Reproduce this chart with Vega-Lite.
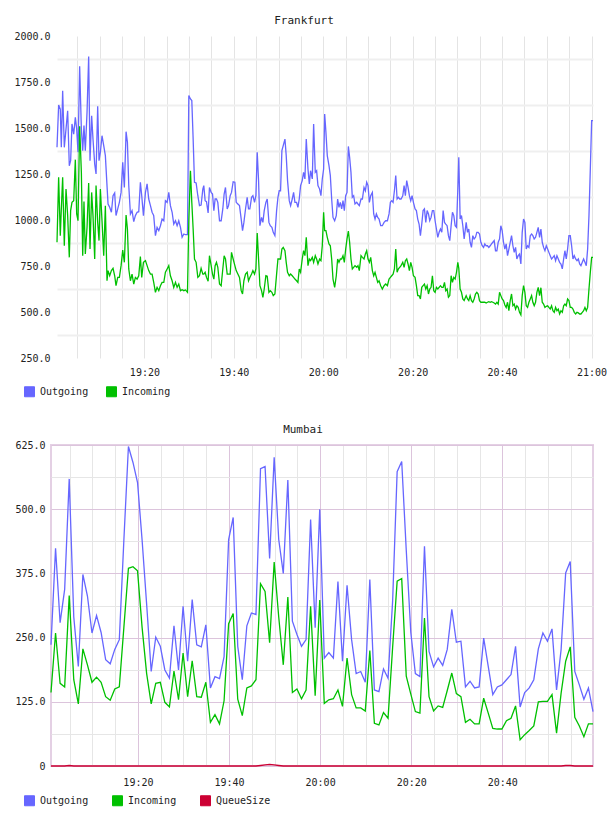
{
  "$schema": "https://vega.github.io/schema/vega-lite/v6.json",
  "background": "white",
  "padding": {"left": 13, "top": 15, "right": 0, "bottom": 0},
  "spacing": 24,
  "resolve": {"scale": {"color": "independent"}, "legend": {"color": "independent"}},
  "config": {
    "font": "DejaVu Sans Mono",
    "axis": {"labelFont": "DejaVu Sans Mono", "labelFontSize": 10, "labelColor": "#222222", "ticks": false, "domain": false, "labelOverlap": false, "labelBound": false, "labelFlush": false},
    "legend": {
      "orient": "none", "direction": "horizontal", "padding": 0,
      "symbolType": "square", "symbolSize": 100, "symbolStrokeWidth": 1,
      "labelFont": "DejaVu Sans Mono", "labelFontSize": 10, "labelColor": "#222222",
      "labelOffset": 5, "columnPadding": 15, "gridAlign": "all"
    }
  },
  "vconcat": [
    {
      "title": {"text": "Frankfurt", "font": "DejaVu Sans Mono", "fontSize": 11, "fontWeight": "normal", "color": "#222222", "anchor": "middle", "frame": "group", "dx": -18, "offset": 5},
      "width": 542,
      "height": 322,
      "view": {"stroke": null},
      "data": {
        "values": [
          {"t":68427000,"Outgoing":1395,"Incoming":879},{"t":68449000,"Outgoing":1625,"Incoming":1232},{"t":68471000,"Outgoing":1603,"Incoming":915},{"t":68485000,"Outgoing":1395,"Incoming":1060},{"t":68503000,"Outgoing":1703,"Incoming":1232},{"t":68525000,"Outgoing":1395,"Incoming":860},{"t":68548000,"Outgoing":1495,"Incoming":1168},{"t":68570000,"Outgoing":1594,"Incoming":1024},{"t":68592000,"Outgoing":1295,"Incoming":797},{"t":68610000,"Outgoing":1322,"Incoming":1051},
          {"t":68628000,"Outgoing":1522,"Incoming":1096},{"t":68651000,"Outgoing":1467,"Incoming":1105},{"t":68673000,"Outgoing":1558,"Incoming":1328},{"t":68691000,"Outgoing":1495,"Incoming":1033},{"t":68709000,"Outgoing":1368,"Incoming":996},{"t":68731000,"Outgoing":1835,"Incoming":1509},{"t":68754000,"Outgoing":1495,"Incoming":1259},{"t":68772000,"Outgoing":1377,"Incoming":806},{"t":68789000,"Outgoing":1513,"Incoming":1100},{"t":68807000,"Outgoing":1377,"Incoming":815},
          {"t":68830000,"Outgoing":1585,"Incoming":960},{"t":68852000,"Outgoing":1889,"Incoming":1201},{"t":68870000,"Outgoing":1322,"Incoming":842},{"t":68892000,"Outgoing":1567,"Incoming":1150},{"t":68910000,"Outgoing":1440,"Incoming":1024},{"t":68933000,"Outgoing":1304,"Incoming":788},{"t":68951000,"Outgoing":1250,"Incoming":1187},{"t":68973000,"Outgoing":1618,"Incoming":987},{"t":68991000,"Outgoing":1322,"Incoming":888},{"t":69009000,"Outgoing":1368,"Incoming":1168},
          {"t":69031000,"Outgoing":1458,"Incoming":996},{"t":69054000,"Outgoing":1404,"Incoming":806},{"t":69076000,"Outgoing":1350,"Incoming":1078},{"t":69098000,"Outgoing":1187,"Incoming":670},{"t":69112000,"Outgoing":1087,"Incoming":725},{"t":69134000,"Outgoing":1069,"Incoming":697},{"t":69157000,"Outgoing":1042,"Incoming":725},{"t":69179000,"Outgoing":1132,"Incoming":737},{"t":69201000,"Outgoing":1147,"Incoming":697},{"t":69219000,"Outgoing":1024,"Incoming":643},
          {"t":69242000,"Outgoing":1060,"Incoming":688},{"t":69264000,"Outgoing":1096,"Incoming":688},{"t":69287000,"Outgoing":1150,"Incoming":752},{"t":69309000,"Outgoing":1313,"Incoming":837},{"t":69331000,"Outgoing":1177,"Incoming":770},{"t":69354000,"Outgoing":1480,"Incoming":1027},{"t":69372000,"Outgoing":1422,"Incoming":951},{"t":69390000,"Outgoing":1187,"Incoming":734},{"t":69412000,"Outgoing":1033,"Incoming":670},{"t":69434000,"Outgoing":1051,"Incoming":706},
          {"t":69457000,"Outgoing":991,"Incoming":652},{"t":69479000,"Outgoing":1024,"Incoming":688},{"t":69502000,"Outgoing":1042,"Incoming":679},{"t":69524000,"Outgoing":1045,"Incoming":697},{"t":69546000,"Outgoing":1205,"Incoming":801},{"t":69564000,"Outgoing":1132,"Incoming":688},{"t":69587000,"Outgoing":1024,"Incoming":770},{"t":69614000,"Outgoing":1150,"Incoming":779},{"t":69636000,"Outgoing":1196,"Incoming":752},{"t":69658000,"Outgoing":1114,"Incoming":725},
          {"t":69681000,"Outgoing":1078,"Incoming":706},{"t":69703000,"Outgoing":1042,"Incoming":706},{"t":69725000,"Outgoing":1024,"Incoming":661},{"t":69748000,"Outgoing":915,"Incoming":607},{"t":69770000,"Outgoing":960,"Incoming":634},{"t":69793000,"Outgoing":942,"Incoming":616},{"t":69815000,"Outgoing":969,"Incoming":643},{"t":69837000,"Outgoing":1005,"Incoming":661},{"t":69860000,"Outgoing":996,"Incoming":661},{"t":69882000,"Outgoing":1105,"Incoming":716},
          {"t":69905000,"Outgoing":1096,"Incoming":734},{"t":69927000,"Outgoing":1150,"Incoming":752},{"t":69949000,"Outgoing":1078,"Incoming":697},{"t":69972000,"Outgoing":1042,"Incoming":670},{"t":69994000,"Outgoing":978,"Incoming":634},{"t":70017000,"Outgoing":996,"Incoming":661},{"t":70039000,"Outgoing":969,"Incoming":634},{"t":70061000,"Outgoing":996,"Incoming":652},{"t":70084000,"Outgoing":960,"Incoming":616},{"t":70106000,"Outgoing":906,"Incoming":621},
          {"t":70129000,"Outgoing":924,"Incoming":616},{"t":70151000,"Outgoing":920,"Incoming":620},{"t":70178000,"Outgoing":920,"Incoming":607},{"t":70196000,"Outgoing":1676,"Incoming":1000},{"t":70218000,"Outgoing":1658,"Incoming":1268},{"t":70236000,"Outgoing":1649,"Incoming":1096},{"t":70254000,"Outgoing":1440,"Incoming":951},{"t":70272000,"Outgoing":1205,"Incoming":788},{"t":70294000,"Outgoing":1201,"Incoming":770},{"t":70317000,"Outgoing":1132,"Incoming":688},
          {"t":70339000,"Outgoing":1078,"Incoming":697},{"t":70361000,"Outgoing":1081,"Incoming":737},{"t":70384000,"Outgoing":1168,"Incoming":706},{"t":70397000,"Outgoing":1187,"Incoming":706},{"t":70415000,"Outgoing":1105,"Incoming":716},{"t":70433000,"Outgoing":1100,"Incoming":688},{"t":70455000,"Outgoing":1038,"Incoming":667},{"t":70473000,"Outgoing":1177,"Incoming":806},{"t":70496000,"Outgoing":1150,"Incoming":752},{"t":70514000,"Outgoing":1141,"Incoming":706},
          {"t":70532000,"Outgoing":1051,"Incoming":679},{"t":70549000,"Outgoing":1114,"Incoming":752},{"t":70567000,"Outgoing":1114,"Incoming":770},{"t":70585000,"Outgoing":1096,"Incoming":743},{"t":70608000,"Outgoing":996,"Incoming":652},{"t":70630000,"Outgoing":996,"Incoming":643},{"t":70652000,"Outgoing":1060,"Incoming":734},{"t":70670000,"Outgoing":1141,"Incoming":806},{"t":70688000,"Outgoing":1177,"Incoming":788},{"t":70711000,"Outgoing":1060,"Incoming":706},
          {"t":70729000,"Outgoing":1078,"Incoming":706},{"t":70751000,"Outgoing":1132,"Incoming":706},{"t":70769000,"Outgoing":1150,"Incoming":824},{"t":70791000,"Outgoing":1208,"Incoming":788},{"t":70814000,"Outgoing":1205,"Incoming":752},{"t":70832000,"Outgoing":1096,"Incoming":725},{"t":70854000,"Outgoing":1087,"Incoming":706},{"t":70876000,"Outgoing":1078,"Incoming":688},{"t":70899000,"Outgoing":1005,"Incoming":616},{"t":70917000,"Outgoing":942,"Incoming":598},
          {"t":70935000,"Outgoing":987,"Incoming":670},{"t":70957000,"Outgoing":1060,"Incoming":706},{"t":70979000,"Outgoing":1123,"Incoming":716},{"t":70997000,"Outgoing":1060,"Incoming":670},{"t":71015000,"Outgoing":1060,"Incoming":688},{"t":71038000,"Outgoing":1123,"Incoming":706},{"t":71056000,"Outgoing":1132,"Incoming":725},{"t":71078000,"Outgoing":1096,"Incoming":706},{"t":71096000,"Outgoing":1132,"Incoming":734},{"t":71114000,"Outgoing":1368,"Incoming":929},
          {"t":71132000,"Outgoing":1214,"Incoming":788},{"t":71150000,"Outgoing":969,"Incoming":643},{"t":71172000,"Outgoing":1014,"Incoming":616},{"t":71190000,"Outgoing":987,"Incoming":580},{"t":71208000,"Outgoing":1051,"Incoming":625},{"t":71230000,"Outgoing":1096,"Incoming":697},{"t":71248000,"Outgoing":1114,"Incoming":694},{"t":71271000,"Outgoing":987,"Incoming":607},{"t":71289000,"Outgoing":969,"Incoming":616},{"t":71311000,"Outgoing":960,"Incoming":607},
          {"t":71329000,"Outgoing":933,"Incoming":589},{"t":71351000,"Outgoing":915,"Incoming":598},{"t":71374000,"Outgoing":1051,"Incoming":706},{"t":71392000,"Outgoing":1123,"Incoming":788},{"t":71409000,"Outgoing":1159,"Incoming":788},{"t":71427000,"Outgoing":1159,"Incoming":788},{"t":71445000,"Outgoing":1377,"Incoming":842},{"t":71463000,"Outgoing":1404,"Incoming":851},{"t":71486000,"Outgoing":1440,"Incoming":833},{"t":71503000,"Outgoing":1350,"Incoming":770},
          {"t":71521000,"Outgoing":1214,"Incoming":716},{"t":71544000,"Outgoing":1105,"Incoming":697},{"t":71562000,"Outgoing":1078,"Incoming":706},{"t":71584000,"Outgoing":1114,"Incoming":697},{"t":71602000,"Outgoing":1150,"Incoming":688},{"t":71620000,"Outgoing":1096,"Incoming":679},{"t":71642000,"Outgoing":1096,"Incoming":670},{"t":71660000,"Outgoing":1069,"Incoming":661},{"t":71678000,"Outgoing":1114,"Incoming":734},{"t":71696000,"Outgoing":1187,"Incoming":716},
          {"t":71718000,"Outgoing":1214,"Incoming":788},{"t":71736000,"Outgoing":1259,"Incoming":833},{"t":71754000,"Outgoing":1223,"Incoming":806},{"t":71772000,"Outgoing":1440,"Incoming":906},{"t":71795000,"Outgoing":1277,"Incoming":752},{"t":71813000,"Outgoing":1196,"Incoming":788},{"t":71830000,"Outgoing":1268,"Incoming":779},{"t":71853000,"Outgoing":1223,"Incoming":797},{"t":71871000,"Outgoing":1522,"Incoming":770},{"t":71893000,"Outgoing":1259,"Incoming":806},
          {"t":71911000,"Outgoing":1268,"Incoming":788},{"t":71929000,"Outgoing":1187,"Incoming":761},{"t":71951000,"Outgoing":1168,"Incoming":788},{"t":71969000,"Outgoing":1132,"Incoming":779},{"t":71987000,"Outgoing":1223,"Incoming":860},{"t":72005000,"Outgoing":1277,"Incoming":1042},{"t":72019000,"Outgoing":1576,"Incoming":942},{"t":72036000,"Outgoing":1476,"Incoming":942},{"t":72054000,"Outgoing":1350,"Incoming":906},{"t":72077000,"Outgoing":1295,"Incoming":870},
          {"t":72095000,"Outgoing":1241,"Incoming":860},{"t":72113000,"Outgoing":1114,"Incoming":788},{"t":72131000,"Outgoing":1014,"Incoming":679},{"t":72153000,"Outgoing":996,"Incoming":634},{"t":72175000,"Outgoing":1024,"Incoming":697},{"t":72193000,"Outgoing":1114,"Incoming":788},{"t":72211000,"Outgoing":1069,"Incoming":770},{"t":72229000,"Outgoing":1096,"Incoming":788},{"t":72247000,"Outgoing":1060,"Incoming":788},{"t":72265000,"Outgoing":1105,"Incoming":806},
          {"t":72283000,"Outgoing":1051,"Incoming":770},{"t":72301000,"Outgoing":1132,"Incoming":842},{"t":72319000,"Outgoing":1150,"Incoming":897},{"t":72337000,"Outgoing":1400,"Incoming":940},{"t":72354000,"Outgoing":1341,"Incoming":879},{"t":72372000,"Outgoing":1259,"Incoming":788},{"t":72390000,"Outgoing":1123,"Incoming":734},{"t":72408000,"Outgoing":1132,"Incoming":743},{"t":72426000,"Outgoing":1087,"Incoming":752},{"t":72449000,"Outgoing":1096,"Incoming":743},
          {"t":72466000,"Outgoing":1087,"Incoming":752},{"t":72484000,"Outgoing":1078,"Incoming":725},{"t":72507000,"Outgoing":1114,"Incoming":806},{"t":72525000,"Outgoing":1114,"Incoming":797},{"t":72547000,"Outgoing":1177,"Incoming":788},{"t":72565000,"Outgoing":1159,"Incoming":815},{"t":72583000,"Outgoing":1205,"Incoming":833},{"t":72601000,"Outgoing":1187,"Incoming":788},{"t":72619000,"Outgoing":1096,"Incoming":770},{"t":72637000,"Outgoing":1132,"Incoming":797},
          {"t":72659000,"Outgoing":1150,"Incoming":725},{"t":72677000,"Outgoing":1033,"Incoming":697},{"t":72695000,"Outgoing":1005,"Incoming":716},{"t":72713000,"Outgoing":1033,"Incoming":688},{"t":72731000,"Outgoing":1014,"Incoming":661},{"t":72749000,"Outgoing":1005,"Incoming":670},{"t":72771000,"Outgoing":969,"Incoming":643},{"t":72793000,"Outgoing":969,"Incoming":625},{"t":72816000,"Outgoing":987,"Incoming":643},{"t":72838000,"Outgoing":996,"Incoming":652},
          {"t":72861000,"Outgoing":996,"Incoming":643},{"t":72883000,"Outgoing":1033,"Incoming":679},{"t":72901000,"Outgoing":1096,"Incoming":688},{"t":72919000,"Outgoing":1105,"Incoming":697},{"t":72937000,"Outgoing":1096,"Incoming":706},{"t":72955000,"Outgoing":1159,"Incoming":734},{"t":72973000,"Outgoing":1241,"Incoming":842},{"t":72991000,"Outgoing":1114,"Incoming":716},{"t":73008000,"Outgoing":1123,"Incoming":734},{"t":73026000,"Outgoing":1114,"Incoming":743},
          {"t":73044000,"Outgoing":1114,"Incoming":752},{"t":73067000,"Outgoing":1132,"Incoming":770},{"t":73085000,"Outgoing":1187,"Incoming":743},{"t":73102000,"Outgoing":1132,"Incoming":779},{"t":73120000,"Outgoing":1214,"Incoming":788},{"t":73138000,"Outgoing":1177,"Incoming":761},{"t":73156000,"Outgoing":1132,"Incoming":725},{"t":73174000,"Outgoing":1105,"Incoming":770},{"t":73192000,"Outgoing":1132,"Incoming":743},{"t":73210000,"Outgoing":1096,"Incoming":697},
          {"t":73232000,"Outgoing":1060,"Incoming":688},{"t":73250000,"Outgoing":1051,"Incoming":643},{"t":73268000,"Outgoing":1005,"Incoming":589},{"t":73286000,"Outgoing":978,"Incoming":589},{"t":73304000,"Outgoing":915,"Incoming":571},{"t":73322000,"Outgoing":978,"Incoming":634},{"t":73340000,"Outgoing":1051,"Incoming":643},{"t":73358000,"Outgoing":1060,"Incoming":652},{"t":73376000,"Outgoing":987,"Incoming":625},{"t":73394000,"Outgoing":1051,"Incoming":643},
          {"t":73412000,"Outgoing":1033,"Incoming":598},{"t":73429000,"Outgoing":996,"Incoming":625},{"t":73447000,"Outgoing":1014,"Incoming":634},{"t":73465000,"Outgoing":1051,"Incoming":697},{"t":73483000,"Outgoing":1051,"Incoming":616},{"t":73501000,"Outgoing":996,"Incoming":607},{"t":73519000,"Outgoing":951,"Incoming":634},{"t":73537000,"Outgoing":906,"Incoming":625},{"t":73555000,"Outgoing":933,"Incoming":634},{"t":73573000,"Outgoing":951,"Incoming":643},
          {"t":73591000,"Outgoing":933,"Incoming":634},{"t":73609000,"Outgoing":1051,"Incoming":634},{"t":73627000,"Outgoing":987,"Incoming":661},{"t":73644000,"Outgoing":978,"Incoming":616},{"t":73662000,"Outgoing":969,"Incoming":625},{"t":73680000,"Outgoing":915,"Incoming":580},{"t":73698000,"Outgoing":888,"Incoming":589},{"t":73716000,"Outgoing":969,"Incoming":697},{"t":73734000,"Outgoing":1042,"Incoming":661},{"t":73752000,"Outgoing":1024,"Incoming":688},
          {"t":73770000,"Outgoing":969,"Incoming":679},{"t":73788000,"Outgoing":960,"Incoming":716},{"t":73806000,"Outgoing":1168,"Incoming":770},{"t":73819000,"Outgoing":1341,"Incoming":737},{"t":73837000,"Outgoing":1005,"Incoming":625},{"t":73855000,"Outgoing":1024,"Incoming":607},{"t":73873000,"Outgoing":969,"Incoming":571},{"t":73891000,"Outgoing":897,"Incoming":562},{"t":73918000,"Outgoing":987,"Incoming":589},{"t":73936000,"Outgoing":933,"Incoming":571},
          {"t":73953000,"Outgoing":951,"Incoming":562},{"t":73971000,"Outgoing":879,"Incoming":589},{"t":73989000,"Outgoing":851,"Incoming":562},{"t":74007000,"Outgoing":915,"Incoming":553},{"t":74025000,"Outgoing":897,"Incoming":571},{"t":74043000,"Outgoing":906,"Incoming":598},{"t":74061000,"Outgoing":933,"Incoming":607},{"t":74079000,"Outgoing":933,"Incoming":598},{"t":74097000,"Outgoing":924,"Incoming":562},{"t":74115000,"Outgoing":879,"Incoming":553},
          {"t":74133000,"Outgoing":860,"Incoming":553},{"t":74151000,"Outgoing":851,"Incoming":553},{"t":74168000,"Outgoing":870,"Incoming":553},{"t":74186000,"Outgoing":860,"Incoming":549},{"t":74204000,"Outgoing":860,"Incoming":553},{"t":74222000,"Outgoing":851,"Incoming":556},{"t":74240000,"Outgoing":860,"Incoming":553},{"t":74258000,"Outgoing":870,"Incoming":556},{"t":74276000,"Outgoing":879,"Incoming":553},{"t":74294000,"Outgoing":888,"Incoming":549},
          {"t":74312000,"Outgoing":833,"Incoming":543},{"t":74330000,"Outgoing":833,"Incoming":553},{"t":74348000,"Outgoing":879,"Incoming":543},{"t":74366000,"Outgoing":897,"Incoming":607},{"t":74383000,"Outgoing":969,"Incoming":589},{"t":74401000,"Outgoing":942,"Incoming":571},{"t":74419000,"Outgoing":879,"Incoming":562},{"t":74437000,"Outgoing":842,"Incoming":538},{"t":74455000,"Outgoing":870,"Incoming":525},{"t":74473000,"Outgoing":806,"Incoming":553},
          {"t":74491000,"Outgoing":842,"Incoming":507},{"t":74509000,"Outgoing":879,"Incoming":562},{"t":74527000,"Outgoing":915,"Incoming":598},{"t":74545000,"Outgoing":860,"Incoming":534},{"t":74563000,"Outgoing":824,"Incoming":543},{"t":74581000,"Outgoing":851,"Incoming":516},{"t":74598000,"Outgoing":788,"Incoming":534},{"t":74616000,"Outgoing":806,"Incoming":525},{"t":74634000,"Outgoing":815,"Incoming":498},{"t":74652000,"Outgoing":761,"Incoming":484},
          {"t":74670000,"Outgoing":933,"Incoming":589},{"t":74688000,"Outgoing":1005,"Incoming":643},{"t":74706000,"Outgoing":987,"Incoming":607},{"t":74724000,"Outgoing":842,"Incoming":534},{"t":74742000,"Outgoing":860,"Incoming":525},{"t":74760000,"Outgoing":851,"Incoming":553},{"t":74778000,"Outgoing":915,"Incoming":571},{"t":74796000,"Outgoing":924,"Incoming":589},{"t":74813000,"Outgoing":915,"Incoming":553},{"t":74831000,"Outgoing":897,"Incoming":534},
          {"t":74849000,"Outgoing":906,"Incoming":553},{"t":74867000,"Outgoing":933,"Incoming":607},{"t":74885000,"Outgoing":960,"Incoming":634},{"t":74903000,"Outgoing":906,"Incoming":589},{"t":74921000,"Outgoing":951,"Incoming":632},{"t":74939000,"Outgoing":879,"Incoming":553},{"t":74957000,"Outgoing":851,"Incoming":543},{"t":74975000,"Outgoing":833,"Incoming":525},{"t":74993000,"Outgoing":860,"Incoming":531},{"t":75011000,"Outgoing":842,"Incoming":534},
          {"t":75028000,"Outgoing":824,"Incoming":525},{"t":75046000,"Outgoing":806,"Incoming":516},{"t":75064000,"Outgoing":788,"Incoming":534},{"t":75082000,"Outgoing":797,"Incoming":507},{"t":75100000,"Outgoing":806,"Incoming":498},{"t":75118000,"Outgoing":779,"Incoming":525},{"t":75136000,"Outgoing":806,"Incoming":507},{"t":75154000,"Outgoing":788,"Incoming":516},{"t":75172000,"Outgoing":770,"Incoming":489},{"t":75190000,"Outgoing":761,"Incoming":507},
          {"t":75208000,"Outgoing":734,"Incoming":498},{"t":75226000,"Outgoing":788,"Incoming":534},{"t":75243000,"Outgoing":833,"Incoming":543},{"t":75261000,"Outgoing":788,"Incoming":534},{"t":75279000,"Outgoing":842,"Incoming":571},{"t":75297000,"Outgoing":915,"Incoming":562},{"t":75315000,"Outgoing":915,"Incoming":525},{"t":75333000,"Outgoing":860,"Incoming":525},{"t":75351000,"Outgoing":788,"Incoming":516},{"t":75369000,"Outgoing":806,"Incoming":498},
          {"t":75387000,"Outgoing":788,"Incoming":489},{"t":75405000,"Outgoing":779,"Incoming":498},{"t":75423000,"Outgoing":788,"Incoming":495},{"t":75441000,"Outgoing":761,"Incoming":489},{"t":75458000,"Outgoing":752,"Incoming":489},{"t":75476000,"Outgoing":770,"Incoming":498},{"t":75494000,"Outgoing":788,"Incoming":507},{"t":75512000,"Outgoing":770,"Incoming":525},{"t":75530000,"Outgoing":752,"Incoming":507},{"t":75548000,"Outgoing":842,"Incoming":525},
          {"t":75566000,"Outgoing":1024,"Incoming":625},{"t":75584000,"Outgoing":1277,"Incoming":716},{"t":75602000,"Outgoing":1540,"Incoming":797},{"t":75620000,"Outgoing":1540,"Incoming":797}
        ]
      },
      "transform": [{"fold": ["Outgoing", "Incoming"], "as": ["series", "value"]}],
      "mark": {"type": "line", "strokeWidth": 1.3},
      "encoding": {
        "x": {
          "field": "t", "type": "temporal",
          "scale": {"type": "utc", "nice": false, "range": [6, 542]},
          "axis": {
            "title": null,
            "values": [68700000, 69000000, 69300000, 69600000, 69900000, 70200000, 70500000, 70800000, 71100000, 71400000, 71700000, 72000000, 72300000, 72600000, 72900000, 73200000, 73500000, 73800000, 74100000, 74400000, 74700000, 75000000, 75300000, 75600000],
            "labelExpr": "utcminutes(datum.value) % 20 === 0 ? utcFormat(datum.value, '%H:%M') : ''",
            "grid": true, "gridColor": "#e4e4e4", "gridWidth": 1,
            "labelPadding": 9, "labelAlign": "center"
          }
        },
        "y": {
          "field": "value", "type": "quantitative",
          "scale": {"domain": [250, 2000], "nice": false, "zero": false},
          "axis": {
            "title": null,
            "values": [250, 375, 500, 625, 750, 875, 1000, 1125, 1250, 1375, 1500, 1625, 1750, 1875, 2000],
            "labelExpr": "datum.value % 250 === 0 ? format(datum.value, '.1f') : ''",
            "grid": true, "gridWidth": 2,
            "gridColor": {"condition": {"test": "datum.value % 250 === 0", "value": "rgba(255,255,255,0)"}, "value": "#efefef"},
            "labelPadding": 1
          }
        },
        "color": {
          "field": "series", "type": "nominal",
          "scale": {"domain": ["Outgoing", "Incoming"], "range": ["#6666ff", "#00c000"]},
          "legend": {
            "title": null, "legendX": -27, "legendY": 350,
            "encode": {"symbols": {"update": {
              "fill": {"signal": "datum.value === 'Outgoing' ? '#6666ff' : datum.value === 'Incoming' ? '#00c000' : '#cc0033'"},
              "fillOpacity": {"value": 1}, "opacity": {"value": 1},
              "stroke": {"value": "#999999"}, "strokeWidth": {"value": 1}
            }}}
          }
        }
      }
    },
    {
      "title": {"text": "Mumbai", "font": "DejaVu Sans Mono", "fontSize": 11, "fontWeight": "normal", "color": "#222222", "anchor": "middle", "frame": "group", "dx": -19, "offset": 5},
      "width": 542,
      "height": 321,
      "view": {"stroke": "#e4d0e4", "strokeWidth": 2},
      "data": {
        "values": [
          {"t":68455000,"Outgoing":236,"Incoming":143,"QueueSize":0},{"t":68515000,"Outgoing":424,"Incoming":259,"QueueSize":0},{"t":68575000,"Outgoing":279,"Incoming":161,"QueueSize":0},{"t":68635000,"Outgoing":344,"Incoming":154,"QueueSize":0},{"t":68695000,"Outgoing":559,"Incoming":332,"QueueSize":1},{"t":68755000,"Outgoing":290,"Incoming":168,"QueueSize":0},{"t":68815000,"Outgoing":194,"Incoming":121,"QueueSize":0},{"t":68875000,"Outgoing":373,"Incoming":228,"QueueSize":0},{"t":68935000,"Outgoing":331,"Incoming":197,"QueueSize":0},{"t":68995000,"Outgoing":259,"Incoming":163,"QueueSize":0},
          {"t":69055000,"Outgoing":293,"Incoming":173,"QueueSize":0},{"t":69115000,"Outgoing":260,"Incoming":163,"QueueSize":0},{"t":69175000,"Outgoing":207,"Incoming":135,"QueueSize":0},{"t":69235000,"Outgoing":199,"Incoming":128,"QueueSize":0},{"t":69295000,"Outgoing":227,"Incoming":150,"QueueSize":0},{"t":69355000,"Outgoing":246,"Incoming":154,"QueueSize":0},{"t":69415000,"Outgoing":440,"Incoming":270,"QueueSize":0},{"t":69475000,"Outgoing":622,"Incoming":385,"QueueSize":0},{"t":69535000,"Outgoing":591,"Incoming":388,"QueueSize":0},{"t":69595000,"Outgoing":552,"Incoming":380,"QueueSize":0},
          {"t":69655000,"Outgoing":440,"Incoming":270,"QueueSize":0},{"t":69715000,"Outgoing":315,"Incoming":180,"QueueSize":0},{"t":69775000,"Outgoing":184,"Incoming":121,"QueueSize":0},{"t":69835000,"Outgoing":251,"Incoming":161,"QueueSize":0},{"t":69895000,"Outgoing":233,"Incoming":163,"QueueSize":0},{"t":69955000,"Outgoing":187,"Incoming":124,"QueueSize":0},{"t":70015000,"Outgoing":171,"Incoming":115,"QueueSize":0},{"t":70075000,"Outgoing":273,"Incoming":185,"QueueSize":0},{"t":70135000,"Outgoing":187,"Incoming":129,"QueueSize":0},{"t":70195000,"Outgoing":311,"Incoming":220,"QueueSize":0},
          {"t":70255000,"Outgoing":204,"Incoming":135,"QueueSize":0},{"t":70315000,"Outgoing":324,"Incoming":205,"QueueSize":0},{"t":70375000,"Outgoing":236,"Incoming":135,"QueueSize":0},{"t":70435000,"Outgoing":232,"Incoming":134,"QueueSize":0},{"t":70495000,"Outgoing":275,"Incoming":163,"QueueSize":0},{"t":70555000,"Outgoing":152,"Incoming":85,"QueueSize":0},{"t":70615000,"Outgoing":174,"Incoming":100,"QueueSize":0},{"t":70675000,"Outgoing":170,"Incoming":82,"QueueSize":0},{"t":70735000,"Outgoing":213,"Incoming":127,"QueueSize":0},{"t":70795000,"Outgoing":441,"Incoming":277,"QueueSize":0},
          {"t":70855000,"Outgoing":484,"Incoming":297,"QueueSize":0},{"t":70915000,"Outgoing":233,"Incoming":130,"QueueSize":0},{"t":70975000,"Outgoing":168,"Incoming":98,"QueueSize":0},{"t":71035000,"Outgoing":273,"Incoming":152,"QueueSize":0},{"t":71095000,"Outgoing":298,"Incoming":156,"QueueSize":0},{"t":71155000,"Outgoing":295,"Incoming":168,"QueueSize":0},{"t":71215000,"Outgoing":579,"Incoming":355,"QueueSize":1},{"t":71275000,"Outgoing":583,"Incoming":340,"QueueSize":2},{"t":71335000,"Outgoing":404,"Incoming":240,"QueueSize":3},{"t":71395000,"Outgoing":601,"Incoming":397,"QueueSize":2},
          {"t":71455000,"Outgoing":441,"Incoming":290,"QueueSize":1},{"t":71515000,"Outgoing":375,"Incoming":197,"QueueSize":0},{"t":71575000,"Outgoing":557,"Incoming":329,"QueueSize":0},{"t":71635000,"Outgoing":282,"Incoming":143,"QueueSize":0},{"t":71695000,"Outgoing":256,"Incoming":150,"QueueSize":0},{"t":71755000,"Outgoing":233,"Incoming":131,"QueueSize":0},{"t":71815000,"Outgoing":246,"Incoming":148,"QueueSize":0},{"t":71875000,"Outgoing":480,"Incoming":311,"QueueSize":0},{"t":71935000,"Outgoing":269,"Incoming":137,"QueueSize":0},{"t":71995000,"Outgoing":500,"Incoming":323,"QueueSize":0},
          {"t":72055000,"Outgoing":210,"Incoming":122,"QueueSize":0},{"t":72115000,"Outgoing":221,"Incoming":129,"QueueSize":0},{"t":72175000,"Outgoing":210,"Incoming":131,"QueueSize":0},{"t":72235000,"Outgoing":359,"Incoming":148,"QueueSize":0},{"t":72295000,"Outgoing":204,"Incoming":116,"QueueSize":0},{"t":72355000,"Outgoing":352,"Incoming":210,"QueueSize":0},{"t":72415000,"Outgoing":246,"Incoming":139,"QueueSize":0},{"t":72475000,"Outgoing":180,"Incoming":113,"QueueSize":0},{"t":72535000,"Outgoing":184,"Incoming":113,"QueueSize":0},{"t":72595000,"Outgoing":163,"Incoming":107,"QueueSize":0},
          {"t":72655000,"Outgoing":363,"Incoming":225,"QueueSize":0},{"t":72715000,"Outgoing":148,"Incoming":83,"QueueSize":0},{"t":72775000,"Outgoing":145,"Incoming":80,"QueueSize":0},{"t":72835000,"Outgoing":189,"Incoming":104,"QueueSize":0},{"t":72895000,"Outgoing":171,"Incoming":93,"QueueSize":0},{"t":72955000,"Outgoing":320,"Incoming":230,"QueueSize":0},{"t":73015000,"Outgoing":573,"Incoming":360,"QueueSize":0},{"t":73075000,"Outgoing":593,"Incoming":365,"QueueSize":0},{"t":73135000,"Outgoing":420,"Incoming":175,"QueueSize":0},{"t":73195000,"Outgoing":260,"Incoming":140,"QueueSize":0},
          {"t":73255000,"Outgoing":180,"Incoming":106,"QueueSize":0},{"t":73315000,"Outgoing":174,"Incoming":103,"QueueSize":0},{"t":73375000,"Outgoing":428,"Incoming":288,"QueueSize":0},{"t":73435000,"Outgoing":223,"Incoming":135,"QueueSize":0},{"t":73495000,"Outgoing":193,"Incoming":107,"QueueSize":0},{"t":73555000,"Outgoing":210,"Incoming":117,"QueueSize":0},{"t":73615000,"Outgoing":196,"Incoming":114,"QueueSize":0},{"t":73675000,"Outgoing":227,"Incoming":147,"QueueSize":0},{"t":73735000,"Outgoing":305,"Incoming":181,"QueueSize":0},{"t":73795000,"Outgoing":241,"Incoming":141,"QueueSize":0},
          {"t":73855000,"Outgoing":243,"Incoming":135,"QueueSize":0},{"t":73915000,"Outgoing":154,"Incoming":85,"QueueSize":0},{"t":73975000,"Outgoing":165,"Incoming":91,"QueueSize":0},{"t":74035000,"Outgoing":152,"Incoming":82,"QueueSize":0},{"t":74095000,"Outgoing":154,"Incoming":82,"QueueSize":0},{"t":74155000,"Outgoing":249,"Incoming":132,"QueueSize":0},{"t":74215000,"Outgoing":194,"Incoming":103,"QueueSize":0},{"t":74275000,"Outgoing":139,"Incoming":73,"QueueSize":0},{"t":74335000,"Outgoing":154,"Incoming":72,"QueueSize":0},{"t":74395000,"Outgoing":158,"Incoming":72,"QueueSize":0},
          {"t":74455000,"Outgoing":168,"Incoming":88,"QueueSize":0},{"t":74515000,"Outgoing":178,"Incoming":93,"QueueSize":0},{"t":74575000,"Outgoing":233,"Incoming":117,"QueueSize":0},{"t":74635000,"Outgoing":115,"Incoming":51,"QueueSize":0},{"t":74695000,"Outgoing":143,"Incoming":61,"QueueSize":0},{"t":74755000,"Outgoing":152,"Incoming":69,"QueueSize":0},{"t":74815000,"Outgoing":168,"Incoming":78,"QueueSize":0},{"t":74875000,"Outgoing":228,"Incoming":125,"QueueSize":0},{"t":74935000,"Outgoing":259,"Incoming":126,"QueueSize":0},{"t":74995000,"Outgoing":243,"Incoming":126,"QueueSize":0},
          {"t":75055000,"Outgoing":267,"Incoming":139,"QueueSize":0},{"t":75115000,"Outgoing":148,"Incoming":64,"QueueSize":0},{"t":75175000,"Outgoing":227,"Incoming":142,"QueueSize":0},{"t":75235000,"Outgoing":376,"Incoming":204,"QueueSize":1},{"t":75295000,"Outgoing":398,"Incoming":232,"QueueSize":1},{"t":75355000,"Outgoing":184,"Incoming":95,"QueueSize":0},{"t":75415000,"Outgoing":158,"Incoming":78,"QueueSize":0},{"t":75475000,"Outgoing":130,"Incoming":57,"QueueSize":0},{"t":75535000,"Outgoing":152,"Incoming":82,"QueueSize":0},{"t":75595000,"Outgoing":106,"Incoming":82,"QueueSize":0}
        ]
      },
      "transform": [{"fold": ["Outgoing", "Incoming", "QueueSize"], "as": ["series", "value"]}],
      "mark": {"type": "line", "strokeWidth": 1.3},
      "encoding": {
        "x": {
          "field": "t", "type": "temporal",
          "scale": {"type": "utc", "nice": false},
          "axis": {
            "title": null,
            "values": [68700000, 69000000, 69300000, 69600000, 69900000, 70200000, 70500000, 70800000, 71100000, 71400000, 71700000, 72000000, 72300000, 72600000, 72900000, 73200000, 73500000, 73800000, 74100000, 74400000, 74700000, 75000000, 75300000],
            "labelExpr": "utcminutes(datum.value) % 20 === 0 ? utcFormat(datum.value, '%H:%M') : ''",
            "grid": true, "gridWidth": 1,
            "gridColor": {"condition": {"test": "utcminutes(datum.value) % 20 === 0", "value": "#dcc4dc"}, "value": "#e6e6e6"},
            "labelPadding": 11, "labelAlign": "center"
          }
        },
        "y": {
          "field": "value", "type": "quantitative",
          "scale": {"domain": [0, 625], "nice": false, "zero": true},
          "axis": {
            "title": null,
            "values": [0, 62.5, 125, 187.5, 250, 312.5, 375, 437.5, 500, 562.5, 625],
            "labelExpr": "datum.value % 125 === 0 ? (datum.value === 0 ? '0' : format(datum.value, '.1f')) : ''",
            "grid": true, "gridWidth": 1,
            "gridColor": {"condition": {"test": "datum.value % 125 === 0", "value": "#dcc4dc"}, "value": "#e6e6e6"},
            "labelPadding": 6
          }
        },
        "color": {
          "field": "series", "type": "nominal",
          "scale": {"domain": ["Outgoing", "Incoming", "QueueSize"], "range": ["#6666ff", "#00c000", "#cc0033"]},
          "legend": {
            "title": null, "legendX": -27, "legendY": 350,
            "encode": {"symbols": {"update": {
              "fill": {"signal": "datum.value === 'Outgoing' ? '#6666ff' : datum.value === 'Incoming' ? '#00c000' : '#cc0033'"},
              "fillOpacity": {"value": 1}, "opacity": {"value": 1},
              "stroke": {"value": "#999999"}, "strokeWidth": {"value": 1}
            }}}
          }
        }
      }
    }
  ]
}
